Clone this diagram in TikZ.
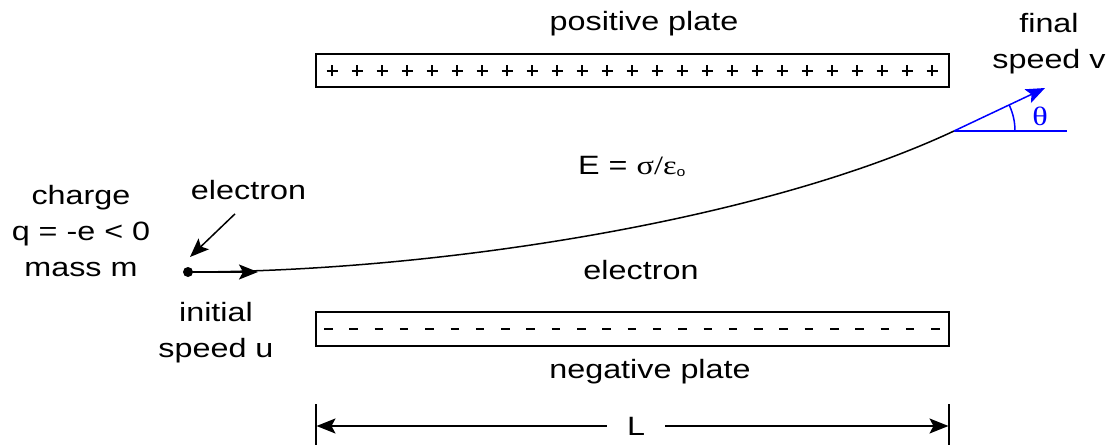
\documentclass[tikz,border=0pt]{standalone}
\usepackage{fontspec}
\setmainfont[FakeStretch=1.22]{Liberation Sans}
\newfontfamily\greekfont[FakeStretch=1.22]{Liberation Serif}
\usetikzlibrary{arrows.meta}
\begin{document}
\begin{tikzpicture}[x=1pt,y=1pt,
  lbl/.style={align=center, font=\fontsize{26.5}{36}\selectfont, inner sep=0pt},
  plate/.style={draw, line width=1.8pt, minimum width=633pt, inner sep=0pt},
  arr/.style={-{Stealth[length=19pt,width=15pt,inset=4pt]}, line width=1.5pt}]
\useasboundingbox (0,0) rectangle (1111,445);
\node[plate, minimum height=33pt] (pos) at (632.5,374.5) {};
\node[plate, minimum height=34pt] (neg) at (632.5,116) {};
\foreach \i in {0,...,24} \draw[line width=2.4pt] ({326.5+25*\i},374) -- ++(11,0) ({332+25*\i},368.5) -- ++(0,11);
\foreach \i in {0,...,24} \draw[line width=2.6pt] ({324+25.3*\i},116) -- ++(8.5,0);
\node[lbl] (postext) at (644,421) {positive plate};
\node[lbl] (negtext) at (650,73) {negative plate};
\node[lbl] (elec) at (641,175) {electron};
\node[lbl, anchor=base west] (field) at (578,270) {E = {\greekfont σ/ε}\raisebox{-2pt}{\fontsize{13}{13}\selectfont o}};
\node[lbl, anchor=north] (charge) at (81,260) {charge\\q = -e < 0\\mass m};
\node[lbl, anchor=north] (initial) at (216,143) {initial\\speed u};
\node[lbl, anchor=north] (final) at (1049,432) {final\\speed v};
\node[lbl, anchor=north] (etext) at (248.5,265) {electron};
\node[circle, fill, inner sep=0pt, minimum size=10pt] (dot) at (188,173) {};
\coordinate (etip) at (190,188);
\coordinate (vin) at (258,173);
\coordinate (exit) at (954,314);
\coordinate (vtip) at (1045,357);
\coordinate (href) at (1067,314);
\draw[arr] ([xshift=-13.5pt,yshift=-14pt]etext.south) -- (etip);
\draw[line width=1.5pt] (dot.center) .. controls (430,173) and (760,223) .. (exit);
\draw[arr] (dot) -- (vin);
\draw[arr, blue] (exit) -- (vtip);
\draw[line width=1.5pt, blue] (exit) -- (href);
\draw[line width=1.5pt, blue] ([xshift=61pt]exit) arc[start angle=0, end angle=25, radius=61pt];
\node[lbl, text=blue, font=\greekfont\fontsize{26.5}{36}\selectfont] (theta) at (1040,328.5) {θ};
\draw[line width=1.5pt] (316,41) -- (316,0);
\draw[line width=1.5pt] (949,41) -- (949,0);
\coordinate (lend) at (316.5,19);
\coordinate (rend) at (948.5,19);
\node[lbl, inner xsep=20pt] (len) at (636,19) {L};
\draw[arr] (len) -- (lend);
\draw[arr] (len) -- (rend);
\end{tikzpicture}
\end{document}
